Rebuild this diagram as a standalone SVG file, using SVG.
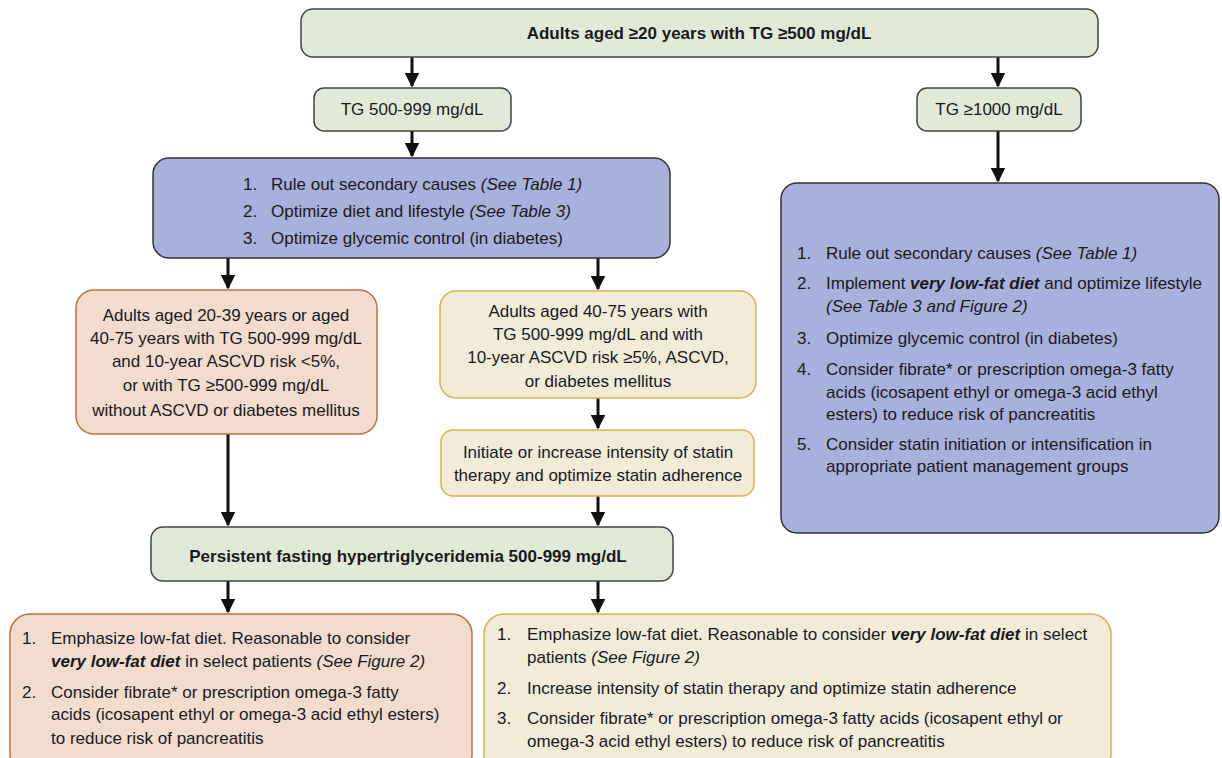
<svg xmlns="http://www.w3.org/2000/svg" width="1222" height="758" viewBox="0 0 1222 758">
<defs>
<marker id="ah" viewBox="0 0 10 10" refX="9" refY="5" markerWidth="5" markerHeight="5" markerUnits="strokeWidth" orient="auto">
<path d="M0,0 L10,5 L0,10 z" fill="#111"/>
</marker>
<style>
text{font-family:"Liberation Sans Narrow","Liberation Sans",Arial,sans-serif;font-size:17px;fill:#1a1a1a}
.c{text-anchor:middle}
.b{font-weight:bold}
.i{font-style:italic}
.bi{font-weight:bold;font-style:italic}
.g{fill:#e1ead9;stroke:#444;stroke-width:1.5}
.p{fill:#a8b0dc;stroke:#333;stroke-width:1.5}
.o{fill:#f2dccd;stroke:#c0703f;stroke-width:1.5}
.y{fill:#f1ebd8;stroke:#d8b34a;stroke-width:1.5}
.e{stroke:#111;stroke-width:3;fill:none;marker-end:url(#ah)}
</style>
</defs>
<rect width="1222" height="758" fill="#fff"/>
<g id="connectors">
<line class="e" x1="412" y1="57" x2="412" y2="86"/>
<line class="e" x1="998" y1="57" x2="998" y2="86"/>
<line class="e" x1="412" y1="131" x2="412" y2="156"/>
<line class="e" x1="998" y1="131" x2="998" y2="181"/>
<line class="e" x1="228" y1="258" x2="228" y2="288"/>
<line class="e" x1="598" y1="258" x2="598" y2="289"/>
<line class="e" x1="598" y1="398" x2="598" y2="428"/>
<line class="e" x1="228" y1="434" x2="228" y2="525"/>
<line class="e" x1="598" y1="496" x2="598" y2="525"/>
<line class="e" x1="228" y1="581" x2="228" y2="612"/>
<line class="e" x1="598" y1="581" x2="598" y2="612"/>
</g>
<g id="n-top">
<rect class="g" x="301" y="9" width="797" height="48" rx="12"/>
<text class="c b" x="699" y="39">Adults aged ≥20 years with TG ≥500 mg/dL</text>
</g>
<g id="n-tg500">
<rect class="g" x="314" y="88" width="197" height="43" rx="10"/>
<text class="c" x="412" y="115">TG 500-999 mg/dL</text>
</g>
<g id="n-tg1000">
<rect class="g" x="917" y="88" width="164" height="43" rx="10"/>
<text class="c" x="999" y="115">TG ≥1000 mg/dL</text>
</g>
<g id="n-blue1">
<rect class="p" x="153" y="158" width="517" height="100" rx="16"/>
<text x="243" y="190">1.</text><text x="271" y="190">Rule out secondary causes <tspan class="i">(See Table 1)</tspan></text>
<text x="243" y="217">2.</text><text x="271" y="217">Optimize diet and lifestyle <tspan class="i">(See Table 3)</tspan></text>
<text x="243" y="244">3.</text><text x="271" y="244">Optimize glycemic control (in diabetes)</text>
</g>
<g id="n-blue2">
<rect class="p" x="781" y="183" width="438" height="350" rx="16"/>
<text x="797" y="259">1.</text><text x="826" y="259">Rule out secondary causes <tspan class="i">(See Table 1)</tspan></text>
<text x="797" y="289">2.</text><text x="826" y="289">Implement <tspan class="bi">very low-fat diet</tspan> and optimize lifestyle</text>
<text class="i" x="826" y="312">(See Table 3 and Figure 2)</text>
<text x="797" y="344">3.</text><text x="826" y="344">Optimize glycemic control (in diabetes)</text>
<text x="797" y="375">4.</text><text x="826" y="375">Consider fibrate* or prescription omega-3 fatty</text>
<text x="826" y="398">acids (icosapent ethyl or omega-3 acid ethyl</text>
<text x="826" y="420">esters) to reduce risk of pancreatitis</text>
<text x="797" y="450">5.</text><text x="826" y="450">Consider statin initiation or intensification in</text>
<text x="826" y="472">appropriate patient management groups</text>
</g>
<g id="n-orange1">
<rect class="o" x="76" y="290" width="301" height="144" rx="18"/>
<text class="c" x="226" y="321">Adults aged 20-39 years or aged</text>
<text class="c" x="226" y="344">40-75 years with TG 500-999 mg/dL</text>
<text class="c" x="226" y="367">and 10-year ASCVD risk &lt;5%,</text>
<text class="c" x="226" y="391">or with TG ≥500-999 mg/dL</text>
<text class="c" x="226" y="416">without ASCVD or diabetes mellitus</text>
</g>
<g id="n-yellow1">
<rect class="y" x="440" y="291" width="316" height="107" rx="16"/>
<text class="c" x="598" y="317">Adults aged 40-75 years with</text>
<text class="c" x="598" y="340">TG 500-999 mg/dL and with</text>
<text class="c" x="598" y="363">10-year ASCVD risk ≥5%, ASCVD,</text>
<text class="c" x="598" y="387">or diabetes mellitus</text>
</g>
<g id="n-yellow2">
<rect class="y" x="441" y="430" width="313" height="66" rx="12"/>
<text class="c" x="598" y="458">Initiate or increase intensity of statin</text>
<text class="c" x="598" y="481">therapy and optimize statin adherence</text>
</g>
<g id="n-persist">
<rect class="g" x="151" y="527" width="522" height="54" rx="12"/>
<text class="c b" x="408" y="562">Persistent fasting hypertriglyceridemia 500-999 mg/dL</text>
</g>
<g id="n-orange2">
<rect class="o" x="10" y="614" width="462" height="160" rx="20"/>
<text x="22" y="644">1.</text><text x="51" y="644">Emphasize low-fat diet. Reasonable to consider</text>
<text x="51" y="667"><tspan class="bi">very low-fat diet</tspan> in select patients <tspan class="i">(See Figure 2)</tspan></text>
<text x="22" y="698">2.</text><text x="51" y="698">Consider fibrate* or prescription omega-3 fatty</text>
<text x="51" y="720">acids (icosapent ethyl or omega-3 acid ethyl esters)</text>
<text x="51" y="744">to reduce risk of pancreatitis</text>
</g>
<g id="n-yellow3">
<rect class="y" x="484" y="614" width="627" height="160" rx="20"/>
<text x="497" y="640">1.</text><text x="527" y="640">Emphasize low-fat diet. Reasonable to consider <tspan class="bi">very low-fat diet</tspan> in select</text>
<text x="527" y="663">patients <tspan class="i">(See Figure 2)</tspan></text>
<text x="497" y="694">2.</text><text x="527" y="694">Increase intensity of statin therapy and optimize statin adherence</text>
<text x="497" y="724">3.</text><text x="527" y="724">Consider fibrate* or prescription omega-3 fatty acids (icosapent ethyl or</text>
<text x="527" y="747">omega-3 acid ethyl esters) to reduce risk of pancreatitis</text>
</g>
</svg>
